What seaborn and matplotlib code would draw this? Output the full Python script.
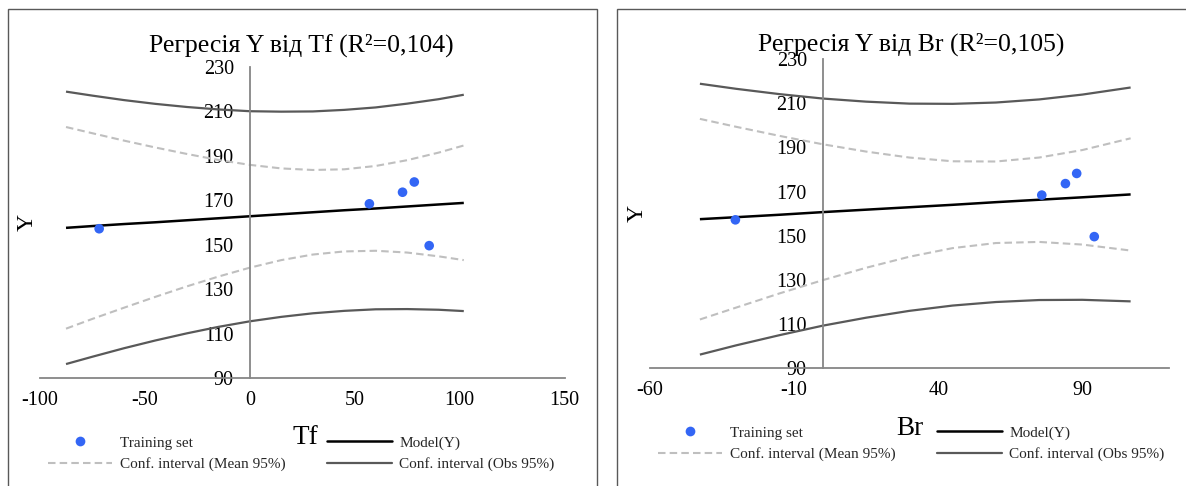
import numpy as np
import pandas as pd
import matplotlib
matplotlib.use("Agg")
import matplotlib.pyplot as plt
from matplotlib.patches import Rectangle
from matplotlib.lines import Line2D
import seaborn as sns

# ---------------- data ----------------
y_obs = [157.2, 168.4, 173.6, 178.2, 149.6]
tf_obs = [-71.8, 57.0, 72.8, 78.4, 85.5]
br_obs = [-30.3, 75.9, 84.1, 88.0, 94.1]

tf_grid = [-87.6, -75, -60, -45, -30, -15, 0, 15, 30, 45, 60, 75, 90, 102]
tf_model = [157.6, 158.4, 159.3, 160.1, 161.0, 161.9, 162.8, 163.7, 164.6, 165.5, 166.3, 167.2, 168.1, 168.8]
tf_mean_hi = [202.9, 200.1, 196.8, 193.7, 190.8, 188.1, 185.9, 184.3, 183.6, 183.9, 185.4, 188.0, 191.4, 194.6]
tf_mean_lo = [112.3, 116.7, 121.7, 126.6, 131.3, 135.7, 139.7, 143.1, 145.6, 147.0, 147.3, 146.5, 144.8, 143.1]
tf_obs_hi = [218.8, 217.0, 215.0, 213.3, 211.9, 210.8, 210.0, 209.8, 209.9, 210.6, 211.7, 213.4, 215.4, 217.4]
tf_obs_lo = [96.4, 99.7, 103.5, 107.0, 110.2, 113.1, 115.6, 117.6, 119.2, 120.3, 121.0, 121.1, 120.8, 120.2]

br_grid = [-42.6, -30, -15, 0, 15, 30, 45, 60, 75, 90, 106.7]
br_model = [157.5, 158.4, 159.5, 160.7, 161.8, 162.9, 164.0, 165.2, 166.3, 167.4, 168.7]
br_mean_hi = [202.9, 199.3, 195.2, 191.4, 188.1, 185.4, 183.7, 183.6, 185.4, 188.8, 194.1]
br_mean_lo = [112.1, 117.5, 123.9, 129.9, 135.5, 140.5, 144.4, 146.7, 147.2, 146.0, 143.3]
br_obs_hi = [218.8, 216.5, 214.1, 212.1, 210.7, 209.8, 209.7, 210.3, 211.7, 213.9, 217.1]
br_obs_lo = [96.2, 100.4, 105.0, 109.3, 112.9, 116.0, 118.4, 120.0, 120.9, 121.0, 120.3]

titles = ["Регресія Y від Tf (R²=0,104)", "Регресія Y від Br (R²=0,105)"]
xlabels = ["Tf", "Br"]
ylabel = "Y"
legend_labels = ["Training set", "Conf. interval (Mean 95%)", "Model(Y)", "Conf. interval (Obs 95%)"]
tf_ticks = [-100, -50, 0, 50, 100, 150]
br_ticks = [-60, -10, 40, 90]
y_ticks = [90, 110, 130, 150, 170, 190, 210, 230]

# ---------------- style ----------------
sns.set_theme(style="white")
plt.rcParams["font.family"] = ["Liberation Serif", "DejaVu Serif"]

W, H = 1186, 486
fig = plt.figure(figsize=(W / 100, H / 100), dpi=100)

C_PT = "#3366F5"
C_MODEL = "#000000"
C_MEAN = "#BFBFBF"
C_OBS = "#595959"
C_AX = "#868686"
C_FRAME = "#595959"


def fx(px):
    return px / W


def fy(py):
    return 1 - py / H


# panel frames
fig.patches.append(Rectangle((fx(7.7), -0.05), fx(597.3 - 7.7), fy(9.3) + 0.05,
                             transform=fig.transFigure, fill=False, ec=C_FRAME, lw=1.0))
fig.patches.append(Rectangle((fx(617.3), -0.05), 0.6, fy(9.3) + 0.05,
                             transform=fig.transFigure, fill=False, ec=C_FRAME, lw=1.0))

panels = [
    dict(ax_px=(40, 564.5, 66.7, 378.3), xlim=(-100, 150), xticks=tf_ticks, xo=tf_obs,
         grid=tf_grid, model=tf_model, mhi=tf_mean_hi, mlo=tf_mean_lo, ohi=tf_obs_hi, olo=tf_obs_lo,
         title_xy=(301, 45), ylab_x=27, xlab_xy=(305, 437), leg_xy=(48, 436)),
    dict(ax_px=(649.7, 1169, 59, 368.3), xlim=(-60, 120), xticks=br_ticks, xo=br_obs,
         grid=br_grid, model=br_model, mhi=br_mean_hi, mlo=br_mean_lo, ohi=br_obs_hi, olo=br_obs_lo,
         title_xy=(911, 44), ylab_x=637.5, xlab_xy=(910, 428), leg_xy=(658, 426)),
]

for i, p in enumerate(panels):
    l, r, t, b = p["ax_px"]
    ax = fig.add_axes([fx(l), fy(b), fx(r - l), (b - t) / H])
    ax.set_facecolor("none")

    def line(yv, color, lw, dashed=False):
        sns.lineplot(x=p["grid"], y=yv, ax=ax, color=color, linewidth=lw,
                     sort=False, estimator=None, legend=False)
        ln = ax.lines[-1]
        if dashed:
            ln.set_dashes((3.6, 2.0))
        ln.set_solid_capstyle("butt")

    line(p["ohi"], C_OBS, 1.6)
    line(p["olo"], C_OBS, 1.6)
    line(p["mhi"], C_MEAN, 1.5, dashed=True)
    line(p["mlo"], C_MEAN, 1.5, dashed=True)
    line(p["model"], C_MODEL, 1.8)
    sns.scatterplot(x=p["xo"], y=y_obs, ax=ax, color=C_PT, s=48, edgecolor="none",
                    legend=False, zorder=5)

    ax.set_xlim(*p["xlim"])
    ax.set_ylim(90, 230)
    ax.set_xticks(p["xticks"])
    ax.set_yticks(y_ticks)
    ax.set_xticklabels([str(v) for v in p["xticks"]])
    ax.set_yticklabels([str(v) for v in y_ticks])
    for s in ["top", "right"]:
        ax.spines[s].set_visible(False)
    ax.spines["left"].set_position(("data", 0))
    for s in ["left", "bottom"]:
        ax.spines[s].set_color(C_AX)
        ax.spines[s].set_linewidth(1.3)
    ax.tick_params(axis="both", direction="inout", length=7, width=1.3, color=C_AX,
                   labelsize=14.5, labelcolor="black")
    ax.tick_params(axis="y", pad=8)
    ax.tick_params(axis="x", pad=6)
    ax.set_xlabel("")
    ax.set_ylabel("")

    fig.text(fx(p["title_xy"][0]), fy(p["title_xy"][1]), titles[i], ha="center", va="center",
             fontsize=18.5, color="black")
    fig.text(fx(p["ylab_x"]), fy((t + b) / 2), ylabel, ha="center", va="center",
             rotation=90, fontsize=17, color="black")
    fig.text(fx(p["xlab_xy"][0]), fy(p["xlab_xy"][1]), xlabels[i], ha="center", va="center",
             fontsize=19.5, color="black")

    handles = [
        Line2D([], [], color=C_PT, marker="o", linestyle="none", markersize=7, markeredgewidth=0),
        Line2D([], [], color=C_MEAN, linewidth=1.5, dashes=(3.6, 2.0)),
        Line2D([], [], color=C_MODEL, linewidth=1.8),
        Line2D([], [], color=C_OBS, linewidth=1.6),
    ]
    fig.legend(handles, legend_labels, ncol=2, loc="upper left",
               bbox_to_anchor=(fx(p["leg_xy"][0]), fy(p["leg_xy"][1])),
               frameon=False, fontsize=11, handlelength=4.2, handletextpad=0.5,
               columnspacing=2.75, borderpad=0, borderaxespad=0, labelspacing=0.5,
               numpoints=1)

fig.savefig("out.png", dpi=100)
